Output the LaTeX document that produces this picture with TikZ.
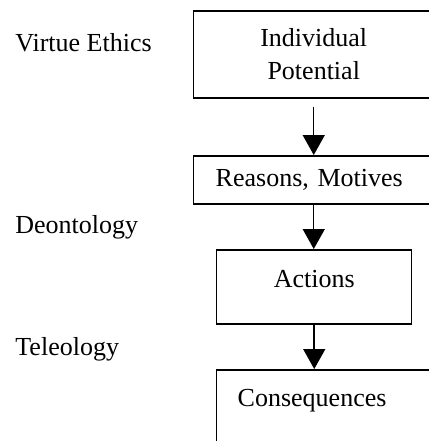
\documentclass[tikz,border=0pt]{standalone}
\usepackage{fontspec}
\setmainfont{Liberation Serif}
\usetikzlibrary{arrows.meta}

\begin{document}
\begin{tikzpicture}[x=0.5pt, y=-0.5pt,
    box/.style={draw, line width=0.75pt, anchor=north west, inner sep=0pt, font=\fontsize{13}{16.5}\selectfont},
    school/.style={anchor=base west, inner sep=0pt, font=\fontsize{13}{16.5}\selectfont},
    arrow/.style={-{Triangle[length=10pt, width=11pt]}, line width=0.75pt}
]
    \useasboundingbox (0,0) rectangle (429,441);
    \clip (0,0) rectangle (429,441);

    % Ethical theories
    \node[school] (virtue) at (15,51) {Virtue Ethics};
    \node[school] (deontology) at (15,233) {Deontology};
    \node[school] (teleology) at (15,355) {Teleology};

    % Boxes
    \node[box, minimum width=120pt, minimum height=43.5pt, align=center] (potential) at (193,10) {Individual\\Potential};
    \node[box, minimum width=123.5pt, minimum height=24pt, text width=101.5pt, inner xsep=11pt, align=left] (reasons) at (193,155) {Reasons, Motives};
    \node[box, minimum width=97.5pt, minimum height=37pt, text depth=8pt] (actions) at (216,249) {Actions};
    \node[box, minimum width=112pt, minimum height=40.5pt, text width=91pt, inner xsep=10.5pt, align=left, text depth=12pt] (consequences) at (216,369) {Consequences};

    % Connections
    \draw[arrow] ([yshift=-4pt]potential.south) -- (potential.south |- reasons.north);
    \draw[arrow] (potential.south |- reasons.south) -- (potential.south |- actions.north);
    \draw[arrow] (actions.south) -- (actions.south |- consequences.north);
\end{tikzpicture}
\end{document}
